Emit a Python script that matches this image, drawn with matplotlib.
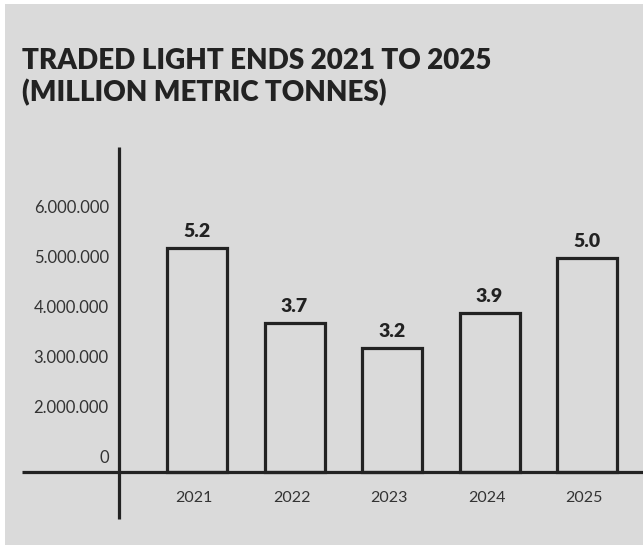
import matplotlib.pyplot as plt
from matplotlib.patches import Rectangle

# traded light ends, million metric tonnes
years = ['2021', '2022', '2023', '2024', '2025']
values = [5.2, 3.7, 3.2, 3.9, 5.0]
value_labels = ['5.2', '3.7', '3.2', '3.9', '5.0']

# axis ticks (millions) and their printed labels
tick_pos = [1, 2, 3, 4, 5, 6]
tick_labels = ['0', '2.000.000', '3.000.000', '4.000.000', '5.000.000', '6.000.000']

base = 0.72      # level where the horizontal axis line sits
ink = '#222222'
bg = '#dadada'

plt.rcParams['font.family'] = ['Lato', 'DejaVu Sans']

W, H = 643, 545
fig = plt.figure(figsize=(W / 100, H / 100), dpi=100)
fig.patch.set_facecolor('white')

# grey panel behind everything
back = fig.add_axes([0, 0, 1, 1])
back.set_zorder(-10)
back.axis('off')
back.add_patch(Rectangle((5 / W, 0), 1, 1 - 4 / H, transform=back.transAxes,
                         facecolor=bg, edgecolor='none'))

fig.text(22 / W, 1 - 61 / H, 'TRADED LIGHT ENDS 2021 TO 2025',
         fontsize=20, fontweight='heavy', color=ink, va='center', ha='left')
fig.text(22 / W, 1 - 93 / H, '(MILLION METRIC TONNES)',
         fontsize=20, fontweight='heavy', color=ink, va='center', ha='left')

# axes box: x 22..643 px, y 147..519 px
ax = fig.add_axes([22 / W, 1 - 519 / H, (643 - 22) / W, (519 - 147) / H])
ax.set_facecolor('none')
ax.set_xlim(-1.795, 4.574)
ax.set_ylim(-0.22, 7.22)
for s in ax.spines.values():
    s.set_visible(False)

x = list(range(len(years)))
ax.bar(x, [v - base for v in values], bottom=base, width=0.615,
       facecolor='none', edgecolor=ink, linewidth=2.3, zorder=3)

for xi, v, lab in zip(x, values, value_labels):
    ax.text(xi, v + 0.33, lab, ha='center', va='center', fontsize=14,
            fontweight='heavy', color=ink)

# crossed axis lines
ax.plot([-1.795, 4.574], [base, base], color=ink, lw=2.3, solid_capstyle='butt',
        clip_on=False, zorder=4)
ax.plot([-0.8, -0.8], [-0.22, 7.22], color=ink, lw=2.3, solid_capstyle='butt',
        clip_on=False, zorder=4)

ax.set_xticks([])
ax.set_yticks([])
for p, lab in zip(tick_pos, tick_labels):
    ax.text(-0.905, p, lab, ha='right', va='center', fontsize=12, color='#333333')
for xi, yr in zip(x, years):
    ax.text(xi - 0.03, 0.2, yr, ha='center', va='center', fontsize=11.5, color='#333333')

fig.savefig('out.png', dpi=100, facecolor=fig.get_facecolor())
